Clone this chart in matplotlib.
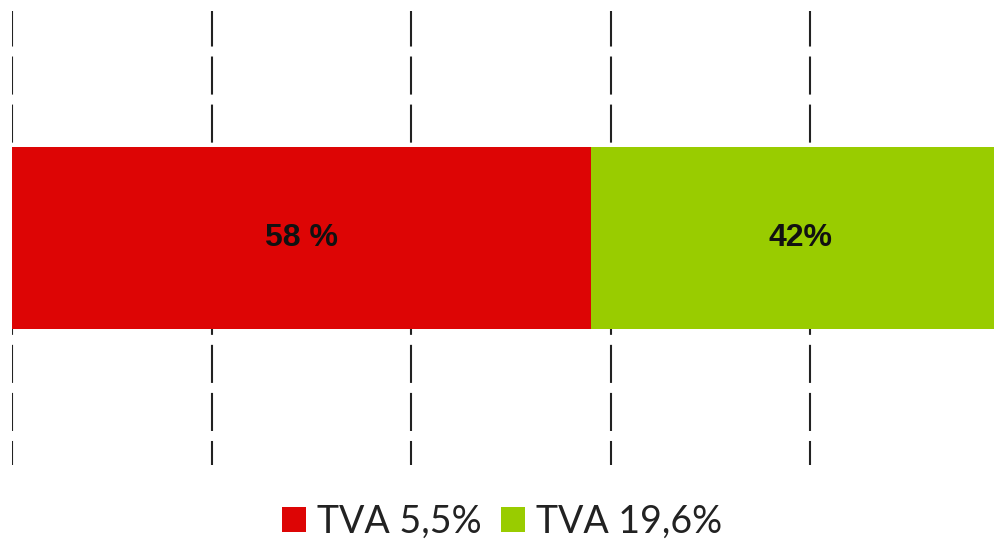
import matplotlib.pyplot as plt
from matplotlib.patches import Patch

# data
categories = ['TVA 5,5%', 'TVA 19,6%']
shares = [58, 42]
labels = ['58 %', '42%']
colors = ['#dd0505', '#99cc00']

plt.rcParams['lines.scale_dashes'] = False

fig = plt.figure(figsize=(9.95, 5.44), dpi=100)
W, H = 995, 544
# right edge of the axes falls outside the image, as in the original crop
ax = fig.add_axes([12 / W, 1 - 465 / H, (1010 - 12) / W, 454 / H])

left = 0
for val, col, lab in zip(shares, colors, labels):
	ax.barh(0, val, left=left, height=0.4, color=col, zorder=2)
	ax.text(left + val / 2, 0, lab, ha='center', va='center',
		fontsize=23, fontweight='bold', family='Liberation Sans', color='#111111', zorder=3)
	left += val

ax.set_xlim(0, 100)
ax.set_ylim(-0.5, 0.5)
ax.set_xticks(range(0, 101, 20))
ax.set_yticks([])
ax.tick_params(axis='x', length=0, labelbottom=False)
ax.grid(axis='x', color='#222222', linewidth=1.5, linestyle=(10.1, (27.4, 7.2)), zorder=1)
for s in ax.spines.values():
	s.set_visible(False)

handles = [Patch(facecolor=c, edgecolor='none') for c in colors]
fig.legend(handles, categories, loc='center', bbox_to_anchor=(502 / W, 1 - 522 / H),
	ncol=2, frameon=False, prop={'family': 'Lato', 'size': 27},
	handlelength=0.65, handleheight=0.65, handletextpad=0.3, columnspacing=0.5,
	labelcolor='#222222', borderpad=0, borderaxespad=0)

plt.savefig('out.png', dpi=100)
